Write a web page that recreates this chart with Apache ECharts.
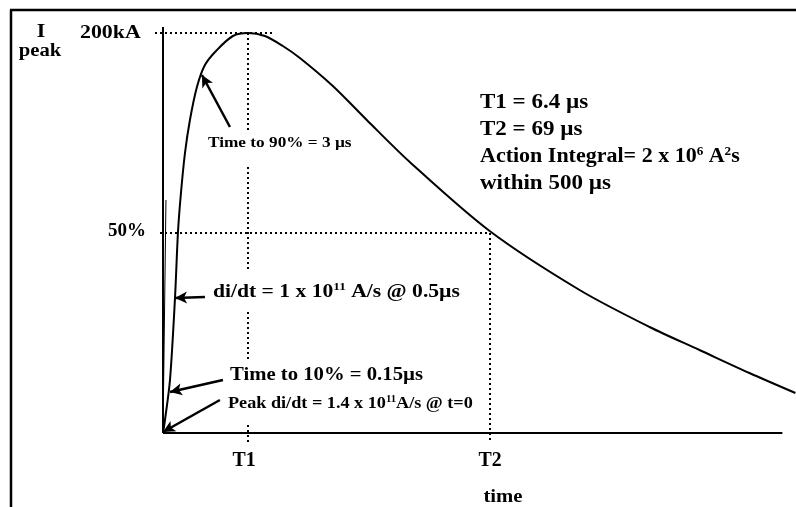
<!DOCTYPE html>
<html>
<head>
<meta charset="utf-8">
<script src="https://cdn.jsdelivr.net/npm/echarts@6/dist/echarts.min.js"></script>
<style>html,body{margin:0;padding:0;background:#fff}#c{width:796px;height:507px}</style>
</head>
<body>
<div id="c"></div>
<script>
// ---- data (time in arbitrary schematic units, current in kA) ----
const curveTime = [0, 0.32, 1.13, 1.94, 2.42, 2.90, 3.55, 4.35, 5.48, 6.77, 8.71, 11.29, 13.71, 16.45, 19.35, 22.10, 27.42, 32.90, 39.84, 52.74, 67.26, 78.55, 86.61, 94.68, 102.1];
const curveCurrent = [0, 6.5, 26.5, 67.5, 100.5, 120, 140, 156.5, 173, 184, 191.5, 198.5, 200, 198.5, 193.5, 187.5, 173.5, 156.5, 135.5, 101, 71.5, 53, 41.5, 30, 20];
const peakCurrent = 200;
const halfCurrent = 100;
const t1Pos = 13.7;
const t2Pos = 52.7;
const axisEndTime = 100;
const axisTopCurrent = 203;
// T1 dotted guide segments (current values), gaps where text crosses
const t1Segments = [[200, 151.5], [133, 80.5], [60.5, 36.5], [4, -4.5]];
const tickBottom = -4.5;
const guideStart = [-1.29, -0.48];
const peakGuideEnd = 17.74;
// arrows: [tailTime, tailCurrent, headTime, headCurrent]
const arrowTime90 = [10.81, 153, 6.29, 179];
const arrowDidt = [6.77, 68, 1.94, 67.5];
const arrowTime10 = [9.68, 26.5, 1.13, 20.5];
const arrowPeakDidt = [9.19, 16.5, 0, 0.5];
const tangentLine = [0, 0, 0.48, 116.5];
// texts
const yLabelTop = '200kA';
const yLabelHalf = '50%';
const xLabels = ['T1', 'T2'];
const xTitle = 'time';
const yTitle = ['I', 'peak'];
const infoLines = ['T1 = 6.4 µs', 'T2 = 69 µs', 'Action Integral= 2 x 10|6| A|2|s', 'within 500 µs'];
const noteTime90 = 'Time to 90% = 3 µs';
const noteDidt = 'di/dt = 1 x 10|11| A/s @ 0.5µs';
const noteTime10 = 'Time to 10% = 0.15µs';
const notePeak = 'Peak di/dt = 1.4 x 10|11|A/s @ t=0';

const FONT = '"Liberation Serif", "Times New Roman", serif';
const SX = 1.15;

function richify(s) {
  const parts = s.split('|');
  return parts.map((p, i) => (i % 2 ? '{s|' + p + '}' : (p ? '{n|' + p + '}' : ''))).join('');
}
function txt(x, y, text, size, align, sx) {
  const rich = {
    n: { fontSize: size, fontFamily: FONT, fontWeight: 'bold', fill: '#000', lineHeight: size + 2 },
    s: { fontSize: Math.round(size * 0.6), fontFamily: FONT, fontWeight: 'bold', fill: '#000', verticalAlign: 'top', lineHeight: size + 2 }
  };
  return {
    type: 'text', x: x, y: y, scaleX: sx == null ? SX : sx, silent: true,
    style: {
      text: richify(text), rich: rich,
      fontSize: size, fontFamily: FONT, fontWeight: 'bold', fill: '#000',
      textAlign: align, align: align, textVerticalAlign: 'middle', verticalAlign: 'middle'
    }
  };
}

const dotted = { color: '#000', width: 2, type: [2, 3] };
const solid = { color: '#000', width: 2, type: 'solid' };
const arrowStyle = { color: '#000', width: 2.5, type: 'solid' };

function seg(a, b, style) {
  return [{ coord: a, symbol: 'none', lineStyle: style }, { coord: b, symbol: 'none' }];
}
function arrow(v) {
  return [{ coord: [v[0], v[1]], symbol: 'none', lineStyle: arrowStyle }, { coord: [v[2], v[3]], symbol: 'arrow', symbolSize: [9, 12] }];
}

const markData = [];
markData.push(seg([0, 0], [axisEndTime, 0], solid));
markData.push(seg([0, 0], [0, axisTopCurrent], solid));
markData.push(seg([tangentLine[0], tangentLine[1]], [tangentLine[2], tangentLine[3]], { color: '#000', width: 1, type: 'solid' }));
markData.push(seg([guideStart[0], peakCurrent], [peakGuideEnd, peakCurrent], dotted));
markData.push(seg([guideStart[1], halfCurrent], [t2Pos, halfCurrent], dotted));
t1Segments.forEach(s => markData.push(seg([t1Pos, s[0]], [t1Pos, s[1]], dotted)));
markData.push(seg([t2Pos, halfCurrent], [t2Pos, tickBottom], dotted));
[arrowTime90, arrowDidt, arrowTime10, arrowPeakDidt].forEach(a => markData.push(arrow(a)));

const chart = echarts.init(document.getElementById('c'), null, { renderer: 'canvas' });
const graphicEls = [
  { type: 'line', shape: { x1: 11, y1: 10, x2: 11, y2: 507 }, style: { stroke: '#000', lineWidth: 2.5 }, silent: true },
  { type: 'line', shape: { x1: 10, y1: 10, x2: 796, y2: 10 }, style: { stroke: '#000', lineWidth: 2.5 }, silent: true },
  txt(41, 32, yTitle[0], 19, 'center'),
  txt(40, 51, yTitle[1], 18, 'center'),
  txt(80, 33, yLabelTop, 19, 'left'),
  txt(108, 231, yLabelHalf, 19, 'left', 1.0),
  txt(244, 460, xLabels[0], 22, 'center', 0.9),
  txt(490, 460, xLabels[1], 22, 'center', 0.9),
  txt(503, 497, xTitle, 18, 'center'),
  txt(208, 143, noteTime90, 15, 'left'),
  txt(213, 292, noteDidt, 18, 'left', 1.2),
  txt(230, 375, noteTime10, 18, 'left'),
  txt(228, 404, notePeak, 17, 'left', 1.07)
];
infoLines.forEach((l, i) => graphicEls.push(txt(480, 103 + i * 27, l, 20, 'left', i === 2 ? 1.1 : SX)));

chart.setOption({
  animation: false,
  backgroundColor: '#fff',
  grid: { left: 150.6, right: 0.6, top: 27, bottom: 54, containLabel: false },
  xAxis: {
    type: 'value', min: -2, max: 102.1,
    axisLine: { show: false }, axisTick: { show: false }, axisLabel: { show: false }, splitLine: { show: false }
  },
  yAxis: {
    type: 'value', min: -10, max: axisTopCurrent,
    axisLine: { show: false }, axisTick: { show: false }, axisLabel: { show: false }, splitLine: { show: false }
  },
  series: [{
    type: 'line',
    data: curveTime.map((t, i) => [t, curveCurrent[i]]),
    smooth: 0.3,
    showSymbol: false,
    symbol: 'none',
    lineStyle: { color: '#000', width: 2 },
    clip: true,
    silent: true,
    markLine: {
      silent: true,
      animation: false,
      symbol: ['none', 'none'],
      label: { show: false },
      emphasis: { disabled: true },
      data: markData
    }
  }],
  graphic: graphicEls
});
</script>
</body>
</html>
